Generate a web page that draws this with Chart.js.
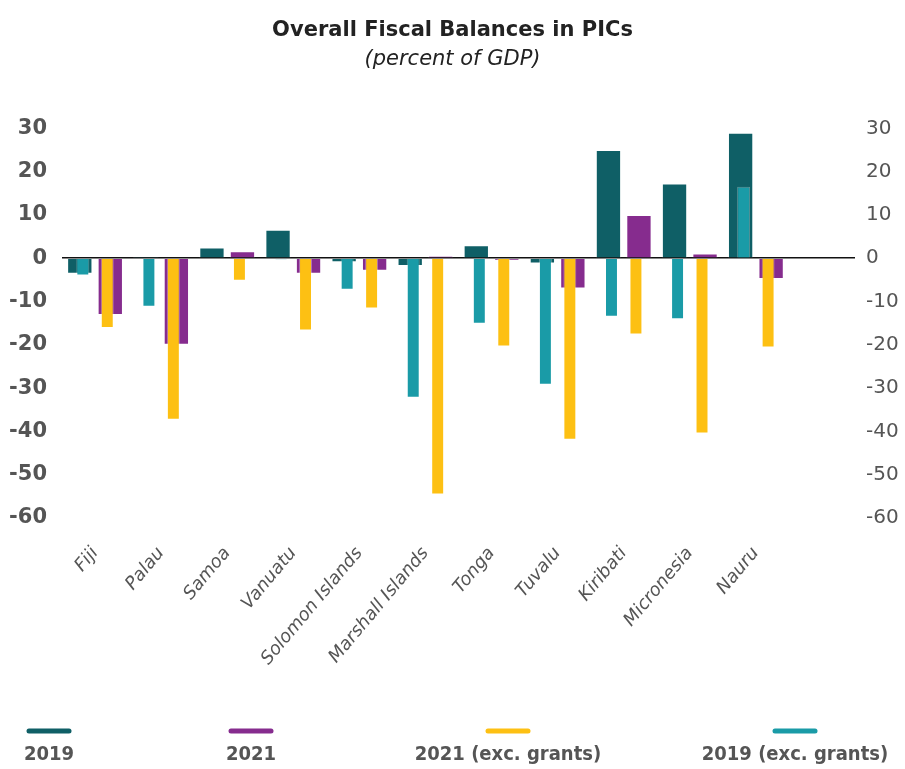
<!DOCTYPE html>
<html>
<head>
<meta charset="utf-8">
<script src="https://cdn.jsdelivr.net/npm/chart.js@4.4.1/dist/chart.umd.min.js"></script>
<style>
  html, body { margin: 0; padding: 0; background: #fff; }
  #wrap { width: 905px; height: 769px; }
</style>
</head>
<body>
<div id="wrap"><canvas id="c" width="905" height="769"></canvas></div>
<script>
const categories = ['Fiji', 'Palau', 'Samoa', 'Vanuatu', 'Solomon Islands', 'Marshall Islands', 'Tonga', 'Tuvalu', 'Kiribati', 'Micronesia', 'Nauru', ''];
const bal2019 = [-3.6, 0.3, 2.5, 6.6, -0.9, -1.8, 3.0, -1.2, 25.0, 17.3, 29.0, null];
const bal2021 = [-13.1, -20.0, 1.6, -3.6, -2.9, 0.5, -0.5, -7.0, 10.0, 1.1, -4.8, null];
const bal2021ExcGrants = [-16.1, -37.3, -5.2, -16.7, -11.6, -54.6, -20.4, -41.9, -17.6, -40.5, -20.6, null];
const bal2019ExcGrants = [-4.0, -11.2, null, -0.3, -7.3, -32.2, -15.1, -29.2, -13.5, -14.1, 16.5, null];
const yTicks = [-60, -50, -40, -30, -20, -10, 0, 10, 20, 30];

const COLORS = {
  c2019: '#0f5f66',
  c2021: '#862c8e',
  c2021x: '#fdc013',
  c2019x: '#1a9ba7'
};
const FONT = "'DejaVu Sans', sans-serif";
const FONT_COND = "'DejaVu Sans Condensed', 'DejaVu Sans', sans-serif";
const GREY = '#555555';

const legendItems = [
  { label: '2019', color: COLORS.c2019, cx: 49 },
  { label: '2021', color: COLORS.c2021, cx: 251 },
  { label: '2021 (exc. grants)', color: COLORS.c2021x, cx: 508 },
  { label: '2019 (exc. grants)', color: COLORS.c2019x, cx: 795 }
];

const legendPlugin = {
  id: 'bottomLegend',
  afterDraw(chart) {
    const ctx = chart.ctx;
    ctx.save();
    legendItems.forEach(it => {
      ctx.strokeStyle = it.color;
      ctx.lineWidth = 5;
      ctx.lineCap = 'round';
      ctx.beginPath();
      ctx.moveTo(it.cx - 20, 731);
      ctx.lineTo(it.cx + 20, 731);
      ctx.stroke();
      ctx.fillStyle = GREY;
      ctx.font = "bold 20px " + FONT_COND;
      ctx.textAlign = 'center';
      ctx.textBaseline = 'middle';
      ctx.fillText(it.label, it.cx, 755);
    });
    ctx.restore();
  }
};

const edge = 'rgba(255,255,255,0.35)';
new Chart(document.getElementById('c'), {
  type: 'bar',
  data: {
    labels: categories,
    datasets: [
      { label: '2019 (exc. grants)', data: bal2019ExcGrants, backgroundColor: COLORS.c2019x, borderColor: edge, borderWidth: 1, stack: 's2019', categoryPercentage: 0.74, barPercentage: 0.53, order: 0 },
      { label: '2021 (exc. grants)', data: bal2021ExcGrants, backgroundColor: COLORS.c2021x, borderColor: edge, borderWidth: 1, stack: 's2021', categoryPercentage: 0.74, barPercentage: 0.53, order: 0 },
      { label: '2019', data: bal2019, backgroundColor: COLORS.c2019, borderColor: edge, borderWidth: 1, stack: 's2019', categoryPercentage: 0.923, barPercentage: 0.83, order: 1 },
      { label: '2021', data: bal2021, backgroundColor: COLORS.c2021, borderColor: edge, borderWidth: 1, stack: 's2021', categoryPercentage: 0.923, barPercentage: 0.83, order: 1 }
    ]
  },
  options: {
    responsive: false,
    animation: false,
    maintainAspectRatio: false,
    layout: { padding: { top: 0, bottom: 90, left: 0, right: 0 } },
    plugins: {
      legend: { display: false },
      tooltip: { enabled: false },
      title: {
        display: true,
        text: 'Overall Fiscal Balances in PICs',
        color: '#222222',
        font: { family: FONT, size: 21, weight: 'bold' },
        padding: { top: 18, bottom: 4 }
      },
      subtitle: {
        display: true,
        text: '(percent of GDP)',
        color: '#222222',
        font: { family: FONT, size: 21, style: 'italic' },
        padding: { top: 0, bottom: 56 }
      }
    },
    scales: {
      x: {
        type: 'category',
        offset: true,
        grid: { display: false, drawTicks: false },
        border: { display: false },
        ticks: {
          color: GREY,
          font: { family: FONT, size: 18, style: 'italic' },
          minRotation: 50,
          maxRotation: 50,
          autoSkip: false,
          padding: 25
        },
        afterFit(scale) { scale.height = 161; }
      },
      y: {
        position: 'left',
        min: -60,
        max: 30,
        stacked: false,
        afterBuildTicks(scale) { scale.ticks = yTicks.map(v => ({ value: v })); },
        grid: {
          display: true,
          drawTicks: false,
          lineWidth: ctx => (ctx.tick && ctx.tick.value === 0 ? 1.6 : 0),
          color: ctx => (ctx.tick && ctx.tick.value === 0 ? '#111111' : 'rgba(0,0,0,0)')
        },
        border: { display: false },
        ticks: {
          color: GREY,
          font: { family: FONT, size: 21, weight: 'bold' },
          padding: 15
        },
        afterFit(scale) { scale.width = 62; }
      },
      y2: {
        position: 'right',
        min: -60,
        max: 30,
        stacked: false,
        afterBuildTicks(scale) { scale.ticks = yTicks.map(v => ({ value: v })); },
        grid: { display: false, drawTicks: false },
        border: { display: false },
        ticks: {
          color: GREY,
          font: { family: FONT, size: 20 },
          padding: 11
        },
        afterFit(scale) { scale.width = 50; }
      }
    }
  },
  plugins: [legendPlugin]
});
</script>
</body>
</html>
